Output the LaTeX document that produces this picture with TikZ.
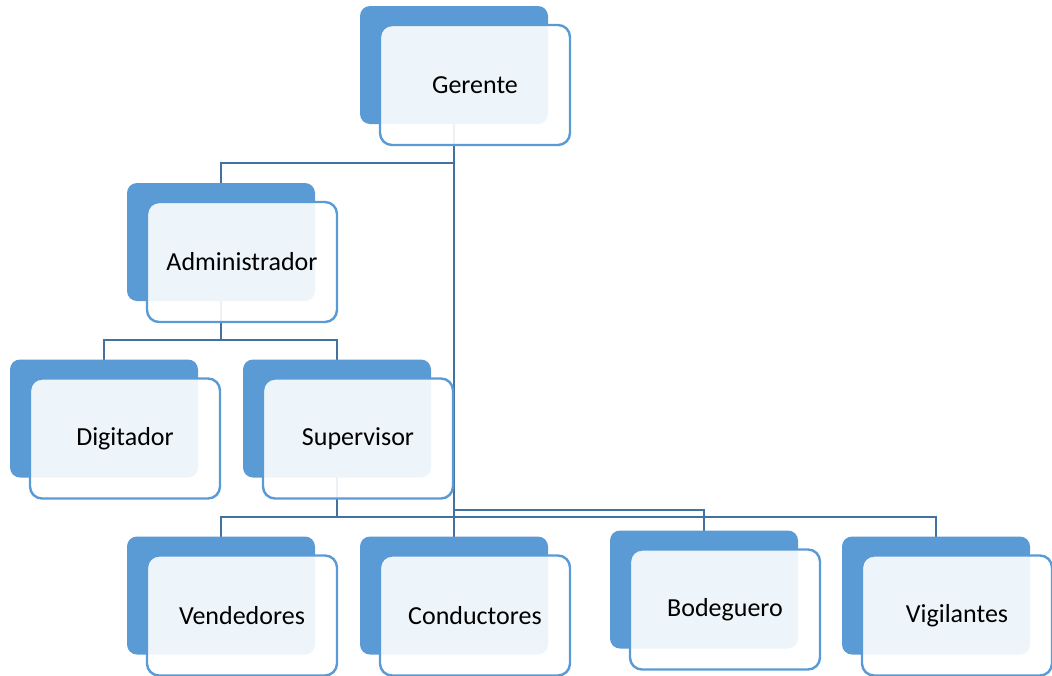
\documentclass[tikz,border=0pt]{standalone}
\usepackage{fontspec}
\setmainfont{Carlito}
\usetikzlibrary{calc}
\pgfdeclarelayer{background}
\pgfsetlayers{background,main}
\definecolor{darkbox}{HTML}{5B9BD5}
\definecolor{frontline}{HTML}{5B9BD5}
\definecolor{connline}{RGB}{68,114,160}
\tikzset{
  backbox/.style={draw=none, fill=darkbox, rounded corners=10pt, minimum width=188pt, minimum height=118pt, inner sep=0pt},
  frontbox/.style={draw=frontline, line width=2.4pt, fill=white, fill opacity=0.9, text opacity=1, rounded corners=12pt, minimum width=190pt, minimum height=120pt, inner sep=0pt, font=\fontsize{26}{30}\selectfont},
  conn/.style={draw=connline, line width=2.6pt}
}
\newcommand{\orgunit}[4]{%
  \node[backbox] (#1-b) at ($(#2,#3)+(-21,-20)$) {};
  \node[frontbox] (#1) at (#2,#3) {#4};
}
\begin{document}
\begin{tikzpicture}[x=1pt,y=-1pt]
\useasboundingbox (0,0) rectangle (1052,675);
\orgunit{ger}{475}{85}{Gerente}
\orgunit{adm}{242}{262}{Administrador}
\orgunit{dig}{125}{438.5}{Digitador}
\orgunit{sup}{358}{438.5}{Supervisor}
\orgunit{ven}{242}{615.5}{Vendedores}
\orgunit{con}{475}{615.5}{Conductores}
\orgunit{bod}{725}{609.5}{Bodeguero}
\orgunit{vig}{957}{615.5}{Vigilantes}
\coordinate (busA) at (0,163);
\coordinate (busB) at (0,340);
\coordinate (busC) at (0,517);
\coordinate (busD) at (0,510);
\begin{pgfonlayer}{background}
\draw[conn] (ger-b.center) -- (ger-b.center |- busA) -| (adm-b.center);
\draw[conn] (ger-b.center) -- (ger-b.center |- busD) -| (bod-b.center);
\draw[conn] (ger-b.center) -- (ger-b.center |- busC) -| (vig-b.center);
\draw[conn] (adm-b.center) -- (adm-b.center |- busB) -| (dig-b.center);
\draw[conn] (adm-b.center) -- (adm-b.center |- busB) -| (sup-b.center);
\draw[conn] (sup-b.center) -- (sup-b.center |- busC) -| (ven-b.center);
\draw[conn] (sup-b.center) -- (sup-b.center |- busC) -| (con-b.center);
\end{pgfonlayer}
\end{tikzpicture}
\end{document}
